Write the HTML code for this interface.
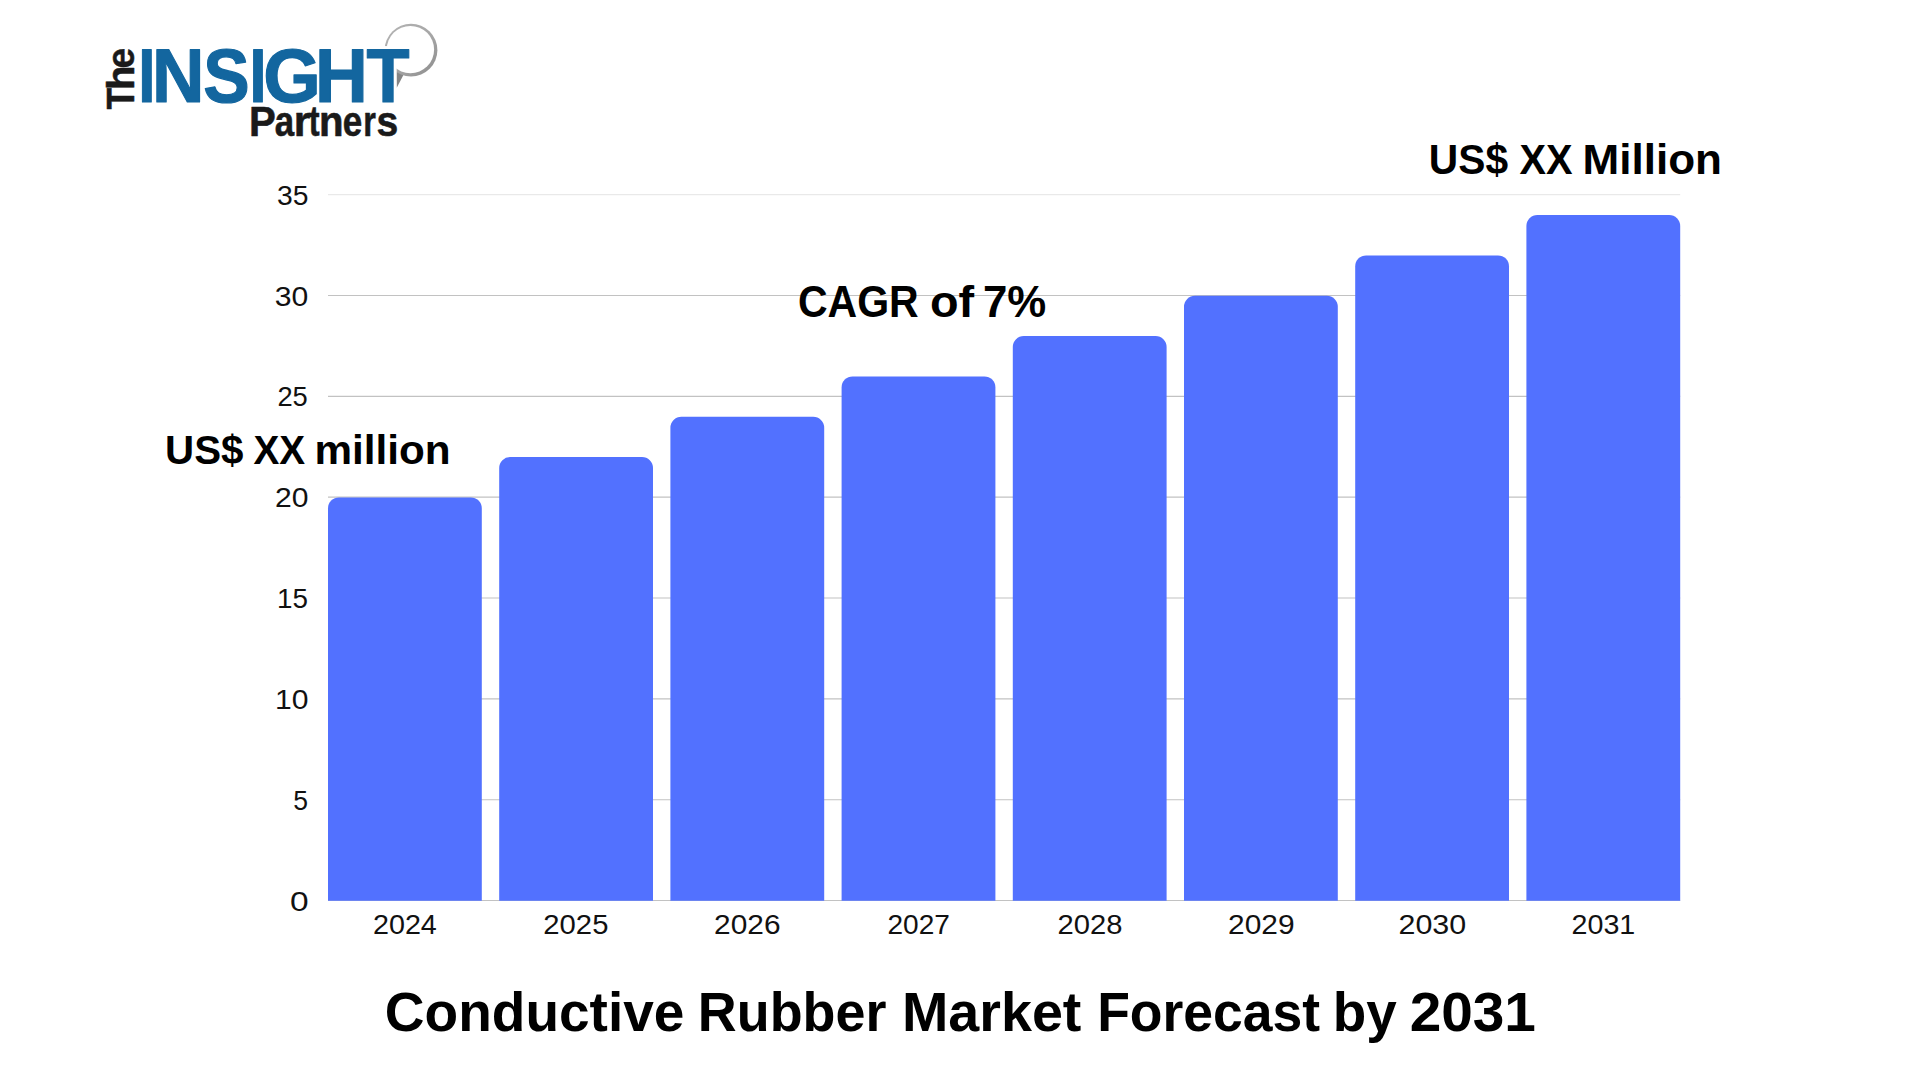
<!DOCTYPE html>
<html lang="en"><head><meta charset="utf-8"><title>Conductive Rubber Market Forecast by 2031</title>
<style>
html,body{margin:0;padding:0;background:#fff;}
body{width:1920px;height:1080px;overflow:hidden;}
svg{display:block;}
text{font-family:"Liberation Sans",sans-serif;}
.b{font-weight:bold;}
.ax{font-size:28px;fill:#111;}
</style></head><body>
<svg width="1920" height="1080" viewBox="0 0 1920 1080">
<rect width="1920" height="1080" fill="#ffffff"/>
<line x1="328.0" x2="1680.2" y1="900.51" y2="900.51" stroke="#c2c2c2" stroke-width="1.1"/>
<line x1="328.0" x2="1680.2" y1="799.68" y2="799.68" stroke="#c2c2c2" stroke-width="1.1"/>
<line x1="328.0" x2="1680.2" y1="698.84" y2="698.84" stroke="#c2c2c2" stroke-width="1.1"/>
<line x1="328.0" x2="1680.2" y1="598.00" y2="598.00" stroke="#c2c2c2" stroke-width="1.1"/>
<line x1="328.0" x2="1680.2" y1="497.17" y2="497.17" stroke="#c2c2c2" stroke-width="1.1"/>
<line x1="328.0" x2="1680.2" y1="396.34" y2="396.34" stroke="#c2c2c2" stroke-width="1.1"/>
<line x1="328.0" x2="1680.2" y1="295.50" y2="295.50" stroke="#c2c2c2" stroke-width="1.1"/>
<line x1="328.0" x2="1680.2" y1="194.66" y2="194.66" stroke="#e9e9e9" stroke-width="1.1"/>
<text class="ax" x="276.92" y="204.8" textLength="31.47" lengthAdjust="spacingAndGlyphs">35</text>
<text class="ax" x="274.85" y="305.6" textLength="33.53" lengthAdjust="spacingAndGlyphs">30</text>
<text class="ax" x="277.42" y="406.4" textLength="30.42" lengthAdjust="spacingAndGlyphs">25</text>
<text class="ax" x="274.99" y="507.3" textLength="33.49" lengthAdjust="spacingAndGlyphs">20</text>
<text class="ax" x="276.98" y="608.1" textLength="30.99" lengthAdjust="spacingAndGlyphs">15</text>
<text class="ax" x="275.01" y="708.9" textLength="33.47" lengthAdjust="spacingAndGlyphs">10</text>
<text class="ax" x="293.14" y="809.8" textLength="14.78" lengthAdjust="spacingAndGlyphs">5</text>
<text class="ax" x="290.09" y="910.6" textLength="18.61" lengthAdjust="spacingAndGlyphs">0</text>
<path fill="#5271ff" d="M328.0 900.8V508.4A11 11 0 0 1 339.0 497.4H470.8A11 11 0 0 1 481.8 508.4V900.8Z"/>
<path fill="#5271ff" d="M499.2 900.8V468.1A11 11 0 0 1 510.2 457.1H642.0A11 11 0 0 1 653.0 468.1V900.8Z"/>
<path fill="#5271ff" d="M670.4 900.8V427.7A11 11 0 0 1 681.4 416.7H813.2A11 11 0 0 1 824.2 427.7V900.8Z"/>
<path fill="#5271ff" d="M841.6 900.8V387.4A11 11 0 0 1 852.6 376.4H984.4A11 11 0 0 1 995.4 387.4V900.8Z"/>
<path fill="#5271ff" d="M1012.8 900.8V347.0A11 11 0 0 1 1023.8 336.0H1155.6A11 11 0 0 1 1166.6 347.0V900.8Z"/>
<path fill="#5271ff" d="M1184.0 900.8V306.7A11 11 0 0 1 1195.0 295.7H1326.8A11 11 0 0 1 1337.8 306.7V900.8Z"/>
<path fill="#5271ff" d="M1355.2 900.8V266.4A11 11 0 0 1 1366.2 255.4H1498.0A11 11 0 0 1 1509.0 266.4V900.8Z"/>
<path fill="#5271ff" d="M1526.4 900.8V226.0A11 11 0 0 1 1537.4 215.0H1669.2A11 11 0 0 1 1680.2 226.0V900.8Z"/>
<text class="ax" x="372.96" y="934" textLength="63.89" lengthAdjust="spacingAndGlyphs">2024</text>
<text class="ax" x="543.33" y="934" textLength="65.10" lengthAdjust="spacingAndGlyphs">2025</text>
<text class="ax" x="714.10" y="934" textLength="66.41" lengthAdjust="spacingAndGlyphs">2026</text>
<text class="ax" x="887.49" y="934" textLength="62.42" lengthAdjust="spacingAndGlyphs">2027</text>
<text class="ax" x="1057.53" y="934" textLength="64.94" lengthAdjust="spacingAndGlyphs">2028</text>
<text class="ax" x="1228.10" y="934" textLength="66.52" lengthAdjust="spacingAndGlyphs">2029</text>
<text class="ax" x="1398.47" y="934" textLength="67.72" lengthAdjust="spacingAndGlyphs">2030</text>
<text class="ax" x="1571.56" y="934" textLength="63.74" lengthAdjust="spacingAndGlyphs">2031</text>
<g id="logo">
<defs>
<linearGradient id="bg" x1="0" y1="0" x2="1" y2="1"><stop offset="0" stop-color="#b4b4b4"/><stop offset="0.55" stop-color="#a6a6a6"/><stop offset="1" stop-color="#8c8c8c"/></linearGradient>
</defs>
<path d="M396.1 69 L396.5 88.3 L404.2 73.6 L400 71 Z" fill="#858585"/>
<circle cx="411" cy="50.2" r="26.4" fill="url(#bg)"/>
<circle cx="410.4" cy="49.6" r="23.7" fill="#ffffff"/>
<rect x="364.4" y="46.2" width="47.4" height="14.6" rx="1.5" fill="#ffffff"/>
<rect x="379.9" y="46.2" width="16.8" height="58" rx="1.5" fill="#ffffff"/>
</g>
<text class="b" y="0.0" font-size="38.8" fill="#1a1a1a" stroke="#1a1a1a" stroke-width="0.5" stroke-linejoin="round" transform="translate(134.45 109.4) rotate(-90)"><tspan x="-0.15" textLength="21.68" lengthAdjust="spacingAndGlyphs">T</tspan><tspan x="19.35" textLength="24.48" lengthAdjust="spacingAndGlyphs">h</tspan><tspan x="40.80" textLength="20.61" lengthAdjust="spacingAndGlyphs">e</tspan></text>
<text class="b" y="101.7" font-size="76.5" fill="#13669f" stroke="#13669f" stroke-width="1.2" stroke-linejoin="round"><tspan x="138.17" textLength="17.17" lengthAdjust="spacingAndGlyphs">I</tspan><tspan x="152.04" textLength="52.45" lengthAdjust="spacingAndGlyphs">N</tspan><tspan x="203.19" textLength="46.42" lengthAdjust="spacingAndGlyphs">S</tspan><tspan x="249.51" textLength="16.97" lengthAdjust="spacingAndGlyphs">I</tspan><tspan x="263.17" textLength="57.52" lengthAdjust="spacingAndGlyphs">G</tspan><tspan x="315.01" textLength="52.82" lengthAdjust="spacingAndGlyphs">H</tspan><tspan x="366.51" textLength="43.05" lengthAdjust="spacingAndGlyphs">T</tspan></text>
<text class="b" y="136.0" font-size="42.7" fill="#1a1a1a" stroke="#1a1a1a" stroke-width="0.6" stroke-linejoin="round"><tspan x="248.92" textLength="26.75" lengthAdjust="spacingAndGlyphs">P</tspan><tspan x="274.68" textLength="19.40" lengthAdjust="spacingAndGlyphs">a</tspan><tspan x="293.80" textLength="16.55" lengthAdjust="spacingAndGlyphs">r</tspan><tspan x="308.65" textLength="10.85" lengthAdjust="spacingAndGlyphs">t</tspan><tspan x="318.90" textLength="24.54" lengthAdjust="spacingAndGlyphs">n</tspan><tspan x="342.68" textLength="19.46" lengthAdjust="spacingAndGlyphs">e</tspan><tspan x="363.16" textLength="12.63" lengthAdjust="spacingAndGlyphs">r</tspan><tspan x="376.42" textLength="21.78" lengthAdjust="spacingAndGlyphs">s</tspan></text>
<text class="b" y="173.9" font-size="43" fill="#000"><tspan x="1428.81" textLength="79.27" lengthAdjust="spacingAndGlyphs">US$</tspan> <tspan x="1519.58" textLength="53.08" lengthAdjust="spacingAndGlyphs">XX</tspan> <tspan x="1582.47" textLength="139.52" lengthAdjust="spacingAndGlyphs">Million</tspan></text>
<text class="b" y="316.7" font-size="44.5" fill="#000"><tspan x="797.93" textLength="120.76" lengthAdjust="spacingAndGlyphs">CAGR</tspan> <tspan x="929.90" textLength="44.21" lengthAdjust="spacingAndGlyphs">of</tspan> <tspan x="983.00" textLength="63.31" lengthAdjust="spacingAndGlyphs">7%</tspan></text>
<text class="b" y="463.9" font-size="41.2" fill="#000"><tspan x="165.10" textLength="78.34" lengthAdjust="spacingAndGlyphs">US$</tspan> <tspan x="253.48" textLength="51.67" lengthAdjust="spacingAndGlyphs">XX</tspan> <tspan x="314.40" textLength="136.20" lengthAdjust="spacingAndGlyphs">million</tspan></text>
<text class="b" y="1030.8" font-size="54.8" fill="#000"><tspan x="384.84" textLength="299.61" lengthAdjust="spacingAndGlyphs">Conductive</tspan> <tspan x="697.81" textLength="188.61" lengthAdjust="spacingAndGlyphs">Rubber</tspan> <tspan x="902.00" textLength="179.40" lengthAdjust="spacingAndGlyphs">Market</tspan> <tspan x="1097.13" textLength="223.04" lengthAdjust="spacingAndGlyphs">Forecast</tspan> <tspan x="1332.66" textLength="64.03" lengthAdjust="spacingAndGlyphs">by</tspan> <tspan x="1409.65" textLength="126.29" lengthAdjust="spacingAndGlyphs">2031</tspan></text>
</svg>
</body></html>
